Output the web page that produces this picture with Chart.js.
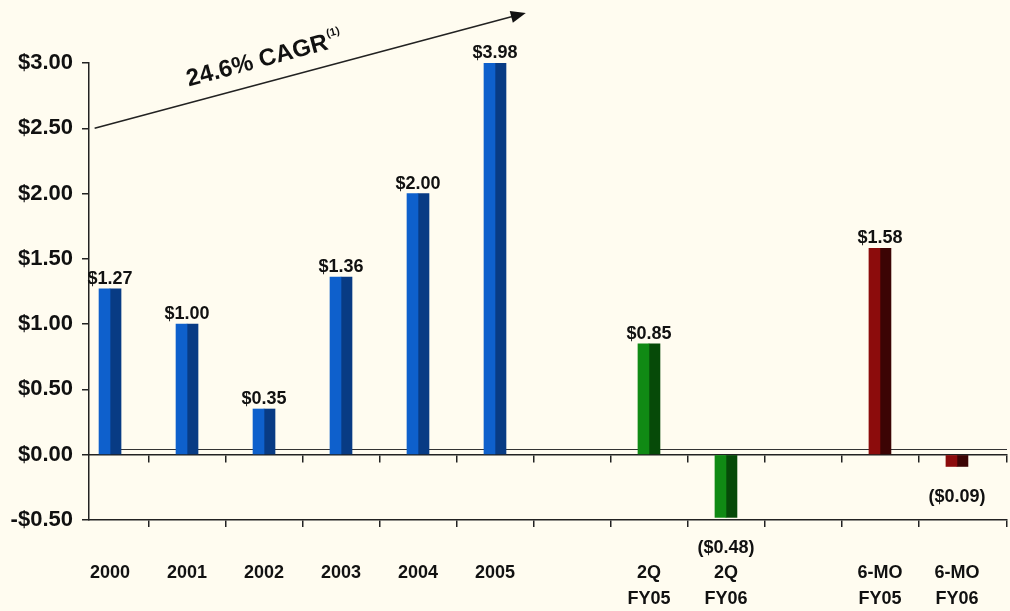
<!DOCTYPE html>
<html>
<head>
<meta charset="utf-8">
<script src="https://cdn.jsdelivr.net/npm/chart.js@4.4.0/dist/chart.umd.min.js"></script>
<style>
    html, body { margin: 0; padding: 0; background: #FFFCF0; }
</style>
</head>
<body>
<canvas id="epsChart" width="1010" height="611"></canvas>
<script>
// Data
    var categories = ['2000', '2001', '2002', '2003', '2004', '2005', '', ['2Q', 'FY05'], ['2Q', 'FY06'], '', ['6-MO', 'FY05'], ['6-MO', 'FY06']];
    var epsValues = [1.27, 1.00, 0.35, 1.36, 2.00, 3.98, null, 0.85, -0.48, null, 1.58, -0.09];
    var periodGroup = ['year', 'year', 'year', 'year', 'year', 'year', '', 'quarter', 'quarter', '', 'sixmo', 'sixmo'];
    var yTicks = [-0.5, 0, 0.5, 1.0, 1.5, 2.0, 2.5, 3.0];
    var cagrText = '24.6% CAGR';
    var cagrNote = '(1)';

// Colours: [front face, side face]
    var palette = {
        year: ['#0E60CC', '#083B84'],
        quarter: ['#108A14', '#064A08'],
        sixmo: ['#8C0C0C', '#3C0404'],
        '': ['#000', '#000']
    };

    var xMin = -0.273, xMax = 11.65;
    var font = 'Liberation Sans';

function money(v){
    var s = '$' + Math.abs(v).toFixed(2);
    return v < 0 ? '(' + s + ')' : s;
}

function boundaryTicks(axis){
    var t = [];
    for (let i = 0; i < categories.length - 1; i++) {
        t.push({value: i + 0.5});
    }
    t.push({value: xMax});
    axis.ticks = t;
}

function $each(arr, fn){
    for (let i = 0; i < arr.length; i++) fn(i, arr[i]);
}

var points = epsValues.map(function(v, i){ return {x: i, y: v}; });

var epsDecor = {
    id: 'epsDecor',
    beforeDatasetsDraw: function(chart){
        // back edge of the floor
        var ctx = chart.ctx, area = chart.chartArea;
        var y0 = Math.round(chart.scales.y.getPixelForValue(0) - 6) + 0.5;
        ctx.save();
        ctx.strokeStyle = '#333';
        ctx.lineWidth = 1;
        ctx.beginPath();
        ctx.moveTo(area.left + 14, y0);
        ctx.lineTo(area.right, y0);
        ctx.stroke();
        ctx.restore();
    },
    afterDatasetsDraw: function(chart){
        var ctx = chart.ctx, area = chart.chartArea;
        var front = chart.getDatasetMeta(0).data;
        var side = chart.getDatasetMeta(1).data;
        ctx.save();
        ctx.font = 'bold 18px "' + font + '"';
        ctx.fillStyle = '#111';
        ctx.textAlign = 'center';
        ctx.textBaseline = 'alphabetic';
        $each(epsValues, function(i, v){
            if (v === null) return;
            var x = (front[i].x + side[i].x) / 2;
            if (v >= 0) {
                ctx.fillText(money(v), x, Math.max(front[i].y, area.top) - 5);
            } else {
                ctx.fillText(money(v), x, Math.min(front[i].y, area.bottom) + 36);
            }
        });
        ctx.restore();
    },
    afterDraw: function(chart){
        // CAGR arrow
        var ctx = chart.ctx, area = chart.chartArea;
        var xs = chart.scales.x, ys = chart.scales.y;
        var x1 = xs.getPixelForValue(-0.2), y1 = ys.getPixelForValue(2.5);
        var x2 = xs.getPixelForValue(5.4), y2 = area.top - 50;
        var a = Math.atan2(y2 - y1, x2 - x1);
        ctx.save();
        ctx.strokeStyle = '#222';
        ctx.fillStyle = '#111';
        ctx.lineWidth = 1.6;
        ctx.beginPath();
        ctx.moveTo(x1, y1);
        ctx.lineTo(x2 - 12 * Math.cos(a), y2 - 12 * Math.sin(a));
        ctx.stroke();
        ctx.translate(x2, y2);
        ctx.rotate(a);
        ctx.beginPath();
        ctx.moveTo(0, 0);
        ctx.lineTo(-15, -6);
        ctx.lineTo(-15, 6);
        ctx.closePath();
        ctx.fill();
        ctx.restore();

        var tx = 193;
        var ty = y1 + (tx - x1) * Math.tan(a);
        ctx.save();
        ctx.translate(tx, ty);
        ctx.rotate(a);
        ctx.fillStyle = '#111';
        ctx.font = 'bold 24px "' + font + '"';
        ctx.textAlign = 'left';
        ctx.textBaseline = 'alphabetic';
        ctx.fillText(cagrText, 0, -16);
        var w = ctx.measureText(cagrText).width;
        ctx.font = 'bold 11px "' + font + '"';
        ctx.fillText(cagrNote, w + 1, -28);
        ctx.restore();
    }
};

var ctx = document.getElementById('epsChart').getContext('2d');
var epsChart = new Chart(ctx, {
    type: 'bar',
    data: {
        datasets: [{
            data: points,
            backgroundColor: periodGroup.map(function(g){ return palette[g][0]; }),
            barThickness: 11
        }, {
            data: points,
            backgroundColor: periodGroup.map(function(g){ return palette[g][1]; }),
            barThickness: 11
        }]
    },
    options: {
        responsive: false,
        animation: false,
        layout: { padding: { top: 63, right: 3, left: 0, bottom: 0 } },
        plugins: { legend: { display: false }, tooltip: { enabled: false } },
        scales: {
            x: {
                type: 'linear', position: 'bottom', weight: 0, offset: false,
                min: xMin, max: xMax,
                afterBuildTicks: boundaryTicks,
                ticks: { display: false },
                grid: { offset: false, drawOnChartArea: false, tickLength: 7, color: '#222', lineWidth: 1.5 },
                border: { color: '#222', width: 1.5 },
                afterFit: function(axis){ axis.height = 8; }
            },
            xl: {
                type: 'linear', position: 'bottom', weight: 1, offset: false,
                min: xMin, max: xMax,
                afterBuildTicks: function(axis){
                    axis.ticks = categories.map(function(c, i){ return {value: i}; });
                },
                ticks: {
                    autoSkip: false, maxRotation: 0, padding: 24, color: '#111',
                    font: { family: font, size: 18, weight: 'bold', lineHeight: 1.45 },
                    callback: function(v){ return categories[Math.round(v)]; }
                },
                grid: { display: false },
                border: { display: false },
                afterFit: function(axis){ axis.height = 83; }
            },
            x0: {
                type: 'linear', position: { y: 0 }, offset: false,
                min: xMin, max: xMax,
                afterBuildTicks: boundaryTicks,
                ticks: { display: false },
                grid: { offset: false, drawOnChartArea: false, tickLength: 7, color: '#222', lineWidth: 1.5 },
                border: { color: '#222', width: 1.5 },
                afterFit: function(axis){ axis.height = 0; }
            },
            y: {
                min: -0.5, max: 3,
                afterBuildTicks: function(axis){
                    axis.ticks = yTicks.map(function(v){ return {value: v}; });
                },
                ticks: {
                    padding: 9, color: '#111',
                    font: { family: font, size: 22, weight: 'bold' },
                    callback: function(v){ return (v < 0 ? '-$' : '$') + Math.abs(v).toFixed(2); }
                },
                grid: { drawOnChartArea: false, tickLength: 7, color: '#222', lineWidth: 1.5 },
                border: { color: '#222', width: 1.5 },
                afterFit: function(axis){ axis.width = 89; }
            }
        }
    },
    plugins: [epsDecor]
});
</script>
</body>
</html>
